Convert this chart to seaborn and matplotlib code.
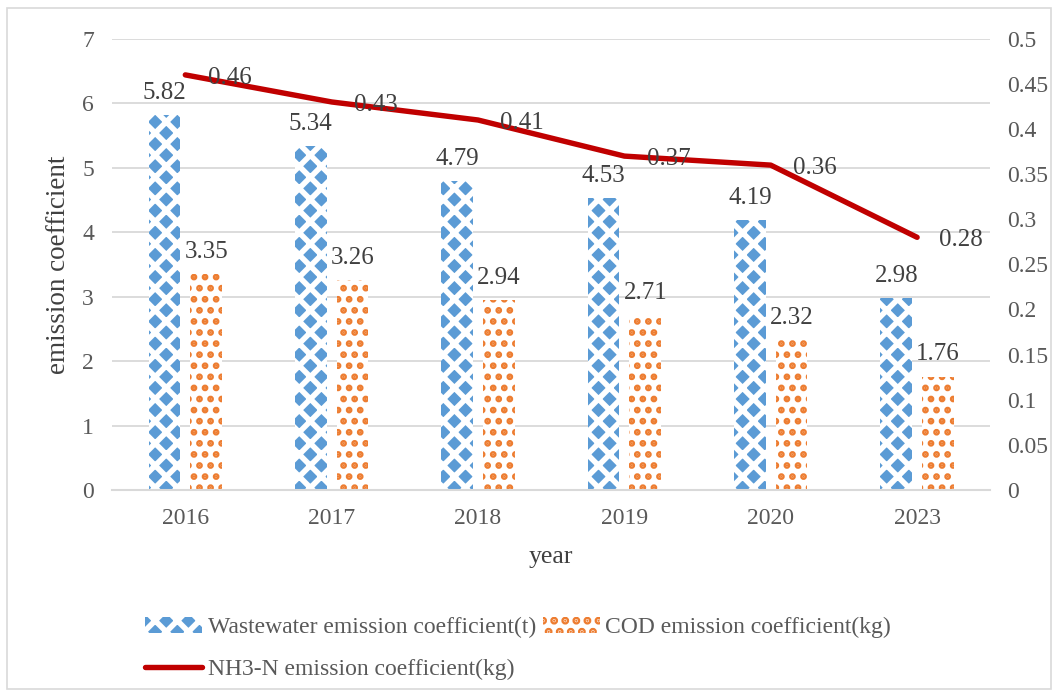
import numpy as np
import pandas as pd
import seaborn as sns
import matplotlib.pyplot as plt
from matplotlib.patches import Patch, Rectangle
from matplotlib.lines import Line2D

years = ["2016", "2017", "2018", "2019", "2020", "2023"]
wastewater = [5.82, 5.34, 4.79, 4.53, 4.19, 2.98]
cod = [3.35, 3.26, 2.94, 2.71, 2.32, 1.76]
nh3n = [0.46, 0.43, 0.41, 0.37, 0.36, 0.28]

ww_name = "Wastewater emission coefficient(t)"
cod_name = "COD emission coefficient(kg)"
nh3_name = "NH3-N emission coefficient(kg)"

blue = "#5B9BD5"
orange = "#ED7D31"
red = "#C00000"
grid_c = "#D9D9D9"
txt_c = "#404040"
tick_c = "#595959"

# render at a higher dpi so the hatch cells come out at the right size;
# K converts "points at 100 dpi" to points at this dpi
DPI = 133
K = 100 / DPI

sns.set_style("white")
plt.rcParams["font.family"] = ["Liberation Serif", "DejaVu Serif"]
plt.rcParams["hatch.linewidth"] = 3.0

df = pd.DataFrame({
    "year": years * 2,
    "value": wastewater + cod,
    "series": [ww_name] * len(years) + [cod_name] * len(years),
})

fig = plt.figure(figsize=(1058 / DPI, 693 / DPI), dpi=DPI)
ax = fig.add_axes([0.106, 0.293, 0.830, 0.651])

sns.barplot(data=df, x="year", y="value", hue="series", ax=ax,
            width=0.57, gap=0.24, legend=False)


def style_ww(p):
    p.set_facecolor(blue)
    p.set_edgecolor("white")
    p.set_hatch("xx")
    p.set_linewidth(0)
    if hasattr(p, "set_hatch_linewidth"):
        p.set_hatch_linewidth(3.0)


def style_cod(p):
    p.set_facecolor("white")
    p.set_edgecolor(orange)
    p.set_hatch("..")
    p.set_linewidth(0)
    if hasattr(p, "set_hatch_linewidth"):
        p.set_hatch_linewidth(2.4)


for bar in ax.containers[0]:
    style_ww(bar)
for bar in ax.containers[1]:
    style_cod(bar)

for cont, vals in zip(ax.containers, [wastewater, cod]):
    ax.bar_label(cont, labels=[f"{v:.2f}" for v in vals], padding=8 * K,
                 fontsize=18 * K, color=txt_c)

ax.set_ylim(0, 7)
ax.set_yticks(range(0, 8))
ax.set_xlim(-0.5, len(years) - 0.5)
ax.yaxis.grid(True, color=grid_c, lw=1.3 * K)
ax.set_axisbelow(True)
for s in ["top", "right", "left"]:
    ax.spines[s].set_visible(False)
ax.spines["bottom"].set_color(grid_c)
ax.spines["bottom"].set_linewidth(1.5 * K)
ax.tick_params(axis="both", length=0, labelsize=17 * K, labelcolor=tick_c, pad=13 * K)
ax.set_xlabel("year", fontsize=18.5 * K, color=txt_c, labelpad=12 * K)
ax.set_ylabel("emission coefficient", fontsize=19.5 * K, color=txt_c, labelpad=8 * K)

ax2 = ax.twinx()
xpos = np.arange(len(years))
sns.lineplot(x=xpos, y=nh3n, ax=ax2, color=red, lw=3.9 * K, legend=False)
for x, v in zip(xpos, nh3n):
    ax2.annotate(f"{v:.2f}", (x, v), xytext=(16 * K, -2 * K), textcoords="offset points",
                 ha="left", va="center", fontsize=18 * K, color=txt_c)
ax2.set_ylim(0, 0.5)
rticks = np.round(np.arange(0, 0.51, 0.05), 2)
ax2.set_yticks(rticks)
ax2.set_yticklabels([f"{t:g}" for t in rticks])
ax2.tick_params(axis="y", length=0, labelsize=17 * K, labelcolor=tick_c, pad=12 * K)
for s in ax2.spines.values():
    s.set_visible(False)
ax.set_xlim(-0.5, len(years) - 0.5)

ww_h = Patch(label=ww_name)
style_ww(ww_h)
cod_h = Patch(label=cod_name)
style_cod(cod_h)
handles = [ww_h, Line2D([0], [0], color=red, lw=3.9 * K, label=nh3_name), cod_h]
fig.legend(handles=handles, ncol=2, loc="upper left", bbox_to_anchor=(0.137, 0.11),
           frameon=False, fontsize=17 * K, handlelength=2.4, handletextpad=0.25,
           columnspacing=0.3, labelspacing=0.85, borderaxespad=0, borderpad=0,
           labelcolor=tick_c)

fig.patches.append(Rectangle((0.007, 0.006), 0.986, 0.982, transform=fig.transFigure,
                             fill=False, ec=grid_c, lw=1.2 * K))

fig.savefig("out.png", dpi=DPI)
